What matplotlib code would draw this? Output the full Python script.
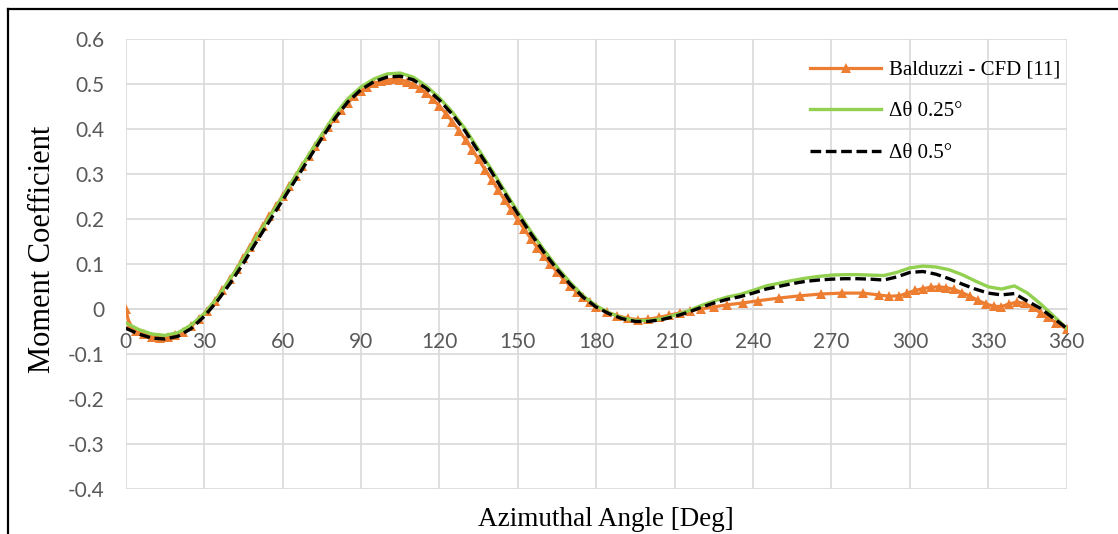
import numpy as np
import matplotlib
matplotlib.use("Agg")
import matplotlib.pyplot as plt
from matplotlib.lines import Line2D

''' Data '''
# common angle grid for the two simulation series
Angle_Sim = list(range(0, 361, 5))

Cm_Dt025 = [-0.030, -0.045, -0.055, -0.058, -0.052, -0.035, -0.010, 0.025, 0.068, 0.112,
            0.160, 0.205, 0.250, 0.297, 0.343, 0.388, 0.432, 0.468, 0.494, 0.512,
            0.523, 0.525, 0.516, 0.496, 0.470, 0.438, 0.400, 0.355, 0.310, 0.263,
            0.217, 0.173, 0.132, 0.094, 0.060, 0.030, 0.008, -0.008, -0.019, -0.025,
            -0.025, -0.021, -0.013, -0.004, 0.008, 0.018, 0.027, 0.033, 0.042, 0.052,
            0.058, 0.064, 0.069, 0.073, 0.076, 0.077, 0.077, 0.076, 0.075, 0.082,
            0.092, 0.096, 0.094, 0.088, 0.077, 0.063, 0.050, 0.045, 0.052, 0.036,
            0.012, -0.015, -0.042]

Cm_Dt05 = [-0.042, -0.055, -0.064, -0.066, -0.060, -0.043, -0.016, 0.018, 0.058, 0.102,
           0.150, 0.196, 0.242, 0.288, 0.334, 0.380, 0.424, 0.461, 0.488, 0.506,
           0.516, 0.518, 0.510, 0.491, 0.465, 0.433, 0.395, 0.350, 0.305, 0.258,
           0.212, 0.168, 0.127, 0.089, 0.056, 0.027, 0.005, -0.010, -0.021, -0.027,
           -0.027, -0.023, -0.016, -0.007, 0.004, 0.014, 0.022, 0.028, 0.036, 0.045,
           0.051, 0.057, 0.062, 0.065, 0.067, 0.068, 0.068, 0.067, 0.065, 0.072,
           0.082, 0.084, 0.078, 0.068, 0.056, 0.045, 0.036, 0.032, 0.035, 0.018,
           0.002, -0.020, -0.042]

Angle_Ref = [0, 1.5, 4, 7, 10, 13, 16, 19, 22, 25, 28, 31, 34, 37, 40,
             42.5, 45, 47.5, 50, 52.5, 55, 57.5, 60, 62.5, 65, 67.5, 70, 72.5, 75, 77.5,
             80, 82.5, 85, 87.5, 90, 92.5, 95, 97.5, 100, 102.5, 105, 107.5, 110, 112.5,
             115, 117.5, 120, 122.5, 125, 127.5, 130, 132.5, 135, 137.5, 140, 142.5,
             145, 147.5, 150, 152.5, 155, 157.5, 160, 162.5, 165, 167.5, 170, 172.5,
             175, 177.5, 180, 184, 188, 192, 196, 200, 204, 208, 212, 216, 220, 225,
             230, 236, 242, 250, 258, 266, 274, 282, 288, 292, 296, 299, 302, 305,
             308, 311, 314, 317, 320, 323, 326, 329, 332, 335, 338, 341, 344, 347,
             350, 353, 356, 360]

Cm_Ref = [0.000, -0.035, -0.048, -0.056, -0.061, -0.063, -0.062, -0.058, -0.050, -0.038,
          -0.022, -0.003, 0.018, 0.042, 0.068,
          0.090, 0.114, 0.138, 0.162, 0.185, 0.207, 0.229, 0.251, 0.274, 0.296,
          0.318, 0.340, 0.362, 0.384, 0.405,
          0.425, 0.443, 0.459, 0.473, 0.485, 0.495, 0.502, 0.507, 0.510, 0.511,
          0.510, 0.506, 0.500, 0.491,
          0.480, 0.467, 0.452, 0.435, 0.417, 0.397, 0.377, 0.355, 0.333, 0.310,
          0.288, 0.265,
          0.243, 0.221, 0.199, 0.178, 0.157, 0.137, 0.118, 0.100, 0.083, 0.067,
          0.052, 0.039,
          0.027, 0.016, 0.006, -0.006, -0.014, -0.020, -0.023, -0.022, -0.018, -0.013,
          -0.008, -0.003, 0.001, 0.005,
          0.010, 0.014, 0.019, 0.025, 0.030, 0.034, 0.036, 0.036, 0.032, 0.029,
          0.030, 0.036, 0.042, 0.046,
          0.049, 0.050, 0.048, 0.044, 0.037, 0.029, 0.020, 0.012, 0.007, 0.006,
          0.012, 0.016, 0.013, 0.004,
          -0.008, -0.018, -0.030, -0.044]

X_Ticks = list(range(0, 361, 30))
Y_Ticks = [-0.4, -0.3, -0.2, -0.1, 0, 0.1, 0.2, 0.3, 0.4, 0.5, 0.6]
Y_TickLabels = ["-0.4", "-0.3", "-0.2", "-0.1", "0", "0.1", "0.2", "0.3", "0.4", "0.5", "0.6"]

''' Plot '''
C_Orange = "#ED7D31"
C_Green = "#92D050"
C_Grid = "#D9D9D9"
C_Tick = "#595959"

fig = plt.figure(figsize=(11.18, 5.34), dpi=100)
ax = fig.add_axes([125.7 / 1118, 1 - 489.3 / 534, (1066.7 - 125.7) / 1118, (489.3 - 39.3) / 534])

ax.plot(Angle_Ref, Cm_Ref, color=C_Orange, lw=2.3, marker="^", ms=7.5,
        markeredgewidth=0, label="Balduzzi - CFD [11]", zorder=3)
ax.plot(Angle_Sim, Cm_Dt025, color=C_Green, lw=2.4, label="Δθ 0.25°", zorder=4)
ax.plot(Angle_Sim, Cm_Dt05, color="black", lw=2.4, dashes=(3.2, 1.4),
        label="Δθ 0.5°", zorder=5)

ax.set_xlim(0, 360)
ax.set_ylim(-0.4, 0.6)
ax.set_xticks(X_Ticks)
ax.set_yticks(Y_Ticks)
ax.set_yticklabels(Y_TickLabels)
ax.grid(True, color=C_Grid, lw=1.2)
ax.set_axisbelow(True)

for s in ["top", "right", "left"]:
    ax.spines[s].set_visible(False)
ax.spines["bottom"].set_position(("data", 0))
ax.spines["bottom"].set_color(C_Grid)
ax.spines["bottom"].set_linewidth(1.2)

ax.tick_params(axis="both", length=0, labelcolor=C_Tick, labelsize=15)
ax.tick_params(axis="x", pad=16)
ax.tick_params(axis="y", pad=15)
for lab in ax.get_xticklabels() + ax.get_yticklabels():
    lab.set_fontfamily("Lato")

fig.text(43 / 1118, 1 - 249 / 534, "Moment Coefficient", rotation=90, ha="center",
         va="center", fontsize=22, family="Liberation Serif")
fig.text(606 / 1118, 1 - 520 / 534, "Azimuthal Angle [Deg]", ha="center", va="center",
         fontsize=19.5, family="Liberation Serif")

leg = ax.legend(loc="upper left", bbox_to_anchor=(800 / 1118, 1 - 50 / 534),
                bbox_transform=fig.transFigure, frameon=False, borderpad=0,
                handlelength=3.4, handletextpad=0.35, labelspacing=1.05,
                prop={"family": "Liberation Serif", "size": 15})

# outer frame (left and top edges are the only ones inside the picture)
fig.add_artist(Line2D([8 / 1118, 8 / 1118], [0, 1 - 9 / 534], color="black", lw=1.6))
fig.add_artist(Line2D([8 / 1118, 1], [1 - 9 / 534, 1 - 9 / 534], color="black", lw=1.6))

fig.savefig("out.png", dpi=100)
